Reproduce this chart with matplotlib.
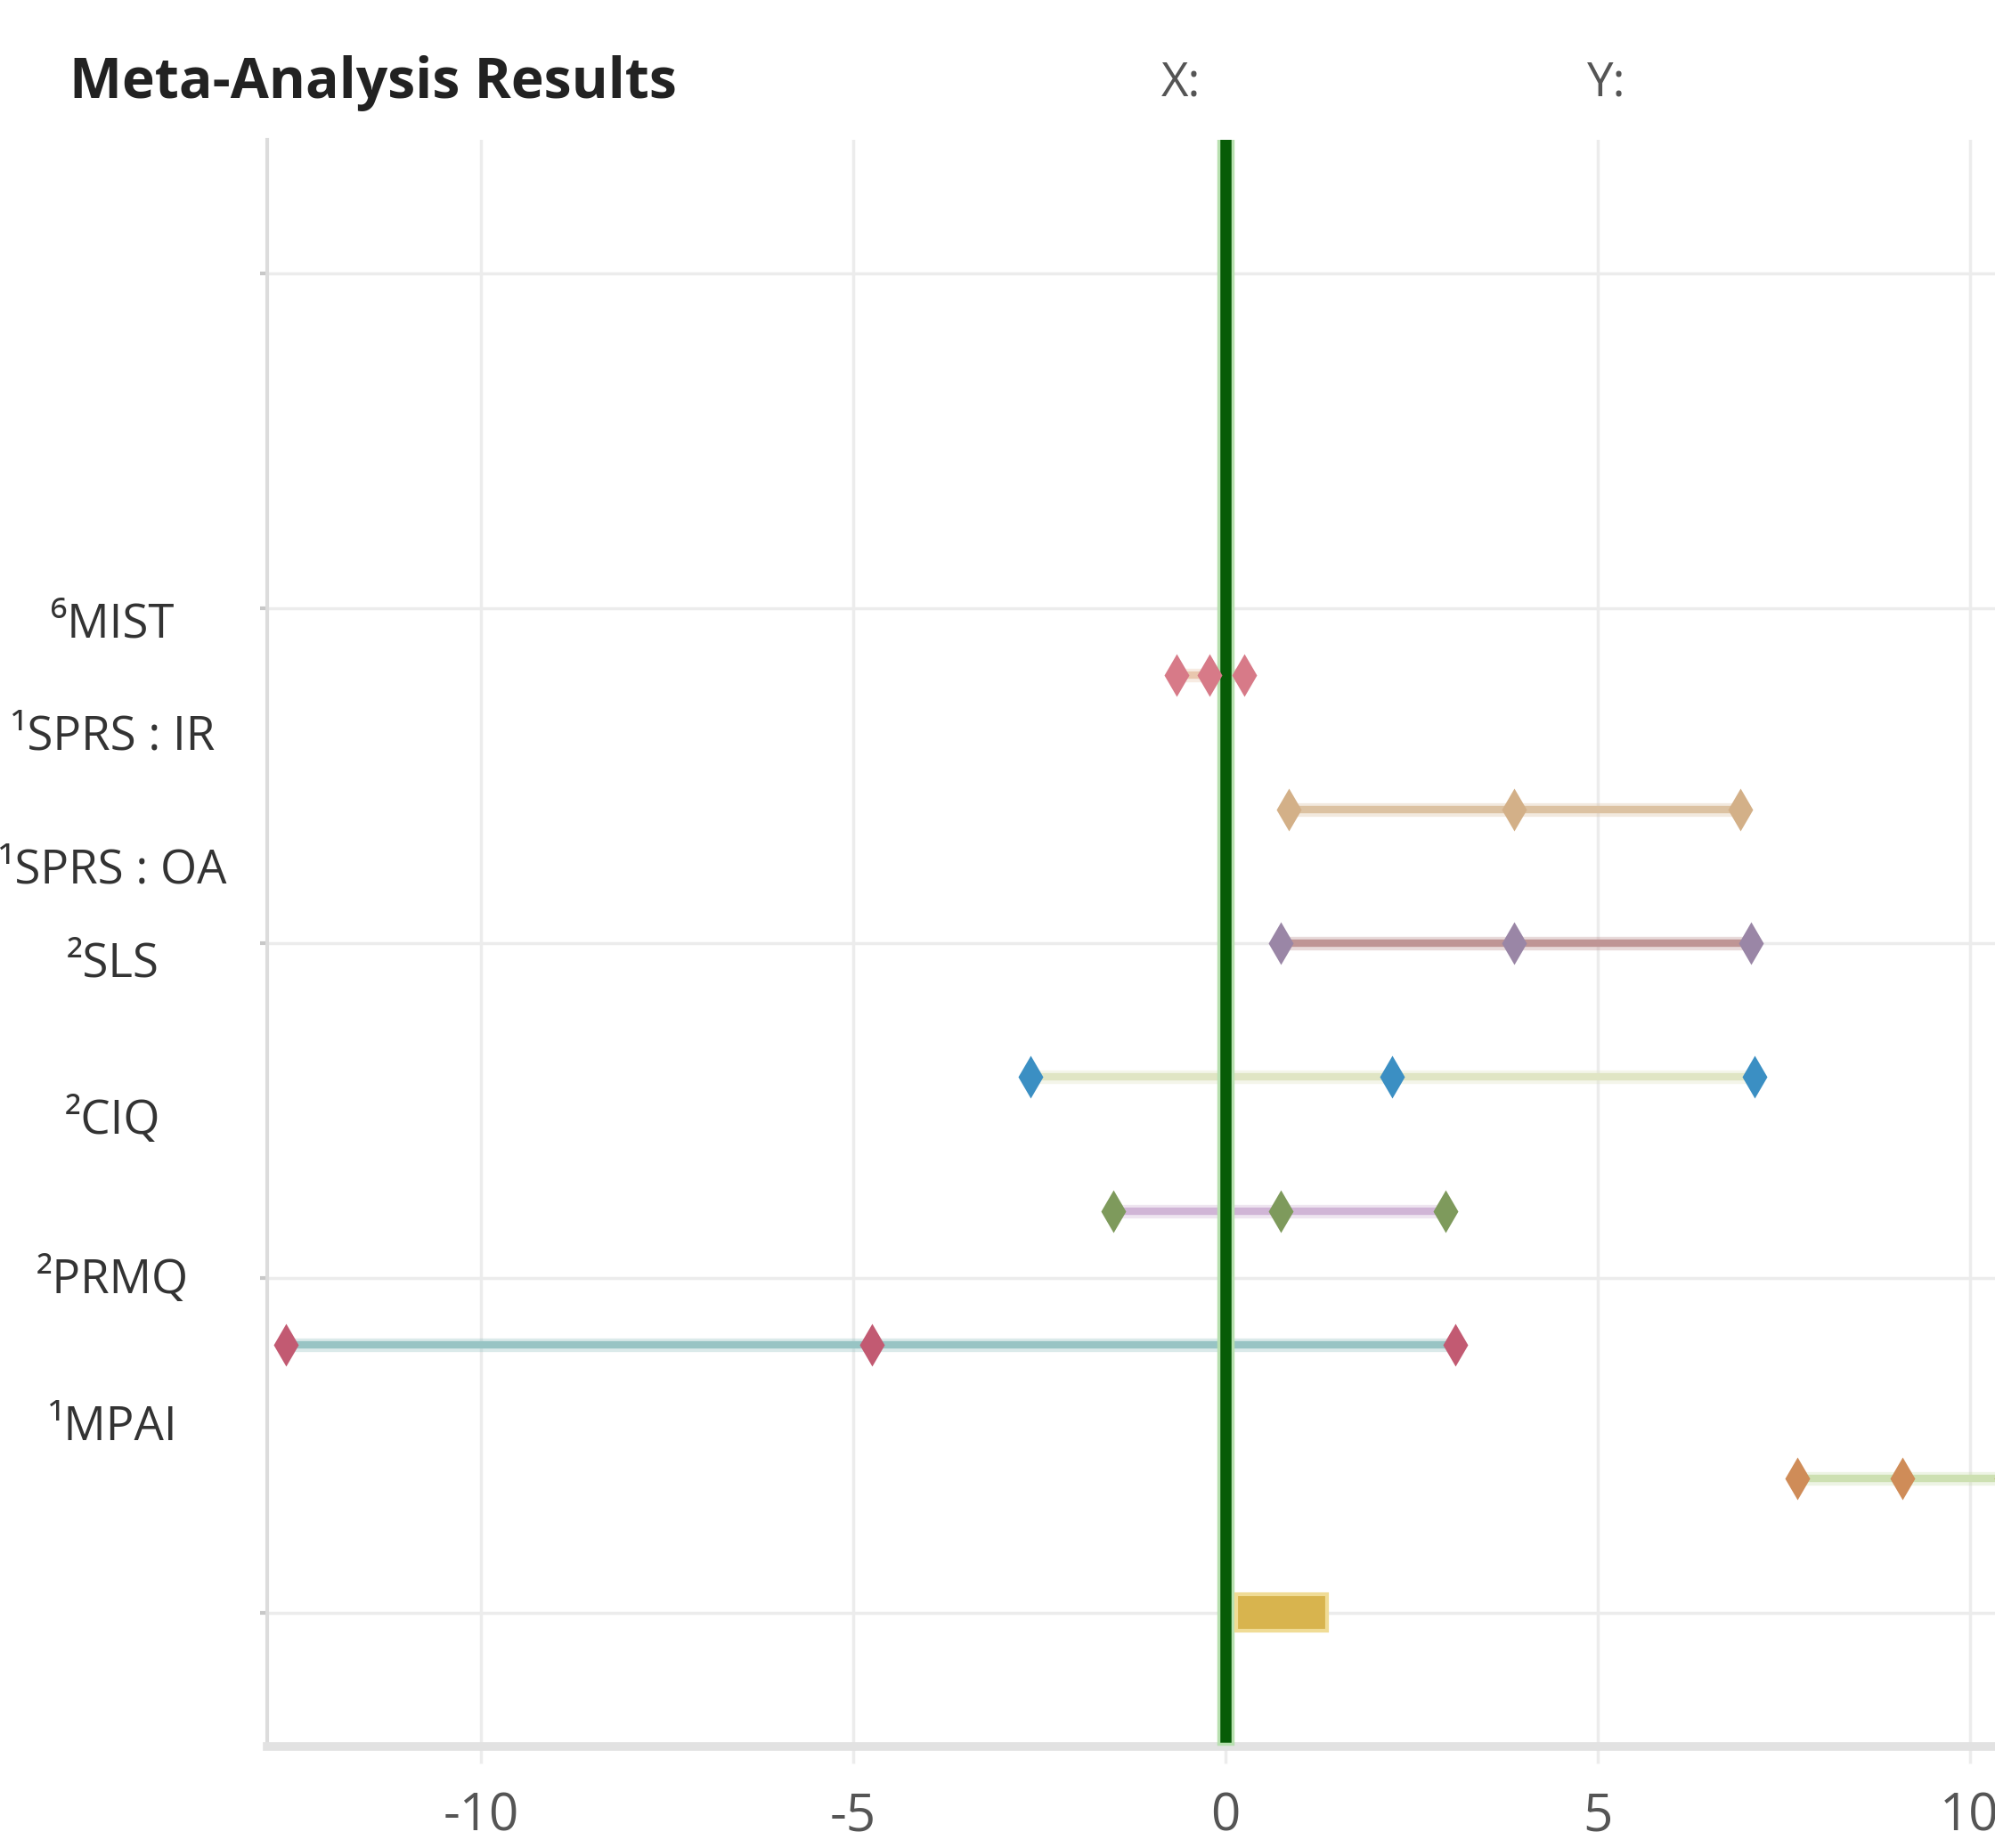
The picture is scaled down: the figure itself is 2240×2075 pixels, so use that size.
import matplotlib.pyplot as plt

plt.rcParams['font.family'] = ['Open Sans', 'DejaVu Sans']

# rows from top to bottom
labels = ['⁶MIST', '¹SPRS : IR', '¹SPRS : OA', '²SLS', '²CIQ', '²PRMQ', '¹MPAI']
lower = [-0.65, 0.85, 0.74, -2.62, -1.50, -12.62, 7.68]
center = [-0.21, 3.88, 3.88, 2.24, 0.74, -4.75, 9.09]
upper = [0.26, 6.92, 7.06, 7.11, 2.96, 3.09, 10.50]
summary_lo, summary_hi = 0.15, 1.37
xticks = [-10, -5, 0, 5, 10]

line_colors = ['#e9c7ae', '#dcc2a2', '#bf9595', '#e0e5c4', '#d0b5d6', '#98c4c4', '#cde0b2']
marker_colors = ['#d77a88', '#d3b088', '#9a86a6', '#3b8fc3', '#7e9a5c', '#c25a72', '#cf8c58']

# layout: row positions and label positions (data y)
row_y = [7, 6, 5, 4, 3, 2, 1]
label_y = [7.38, 6.54, 5.54, 4.84, 3.67, 2.48, 1.38]

fig = plt.figure(figsize=(22.4, 20.75), dpi=100)
ax = fig.add_axes([0.1339, 0.0549, 1 - 0.1339, 0.8694])
ax.set_xlim(-12.87, 10.34)
ax.set_ylim(-1, 11)

ax.set_xticks(xticks)
ax.set_xticklabels([str(t) for t in xticks])
ax.set_yticks([0, 2.5, 5, 7.5, 10])
ax.set_yticklabels([])
ax.grid(True, color='#ececec', lw=2.5, zorder=0)
ax.tick_params(axis='x', length=14, color='#ececec', width=2.5, labelsize=42,
               labelcolor='#555555', pad=22)
ax.tick_params(axis='y', length=6, color='#c8c8c8', width=3)
for s in ['top', 'right']:
    ax.spines[s].set_visible(False)
ax.spines['left'].set_color('#dcdcdc')
ax.spines['left'].set_linewidth(3)
ax.spines['bottom'].set_color('#e2e2e2')
ax.spines['bottom'].set_linewidth(7)

# reference line at zero
ax.axvline(0, ymin=0.006, ymax=1, color='#b8e0b0', lw=14, zorder=3)
ax.axvline(0, ymin=0.006, ymax=1, color='#075c07', lw=9, zorder=4)

for i in range(len(labels)):
    y = row_y[i]
    ax.plot([lower[i], upper[i]], [y, y], color=line_colors[i], lw=11, alpha=0.35,
            solid_capstyle='butt', zorder=2)
    ax.plot([lower[i], upper[i]], [y, y], color=line_colors[i], lw=6,
            solid_capstyle='butt', zorder=2)
    ax.plot([lower[i], center[i], upper[i]], [y, y, y], linestyle='none', marker='d',
            ms=24, color=marker_colors[i], mec='none', zorder=5)
    ax.text(-0.0895, label_y[i], labels[i], transform=ax.get_yaxis_transform(),
            ha='center', va='center', fontsize=38, color='#333333')

ax.barh(0, summary_hi - summary_lo, left=summary_lo, height=0.27,
        color='#d8b44e', edgecolor='#f0dc96', lw=3, zorder=5)

fig.text(0.035, 0.955, 'Meta-Analysis Results', fontsize=45, fontweight='bold',
         color='#222222', ha='left', va='center')
fig.text(0.592, 0.955, 'X:', fontsize=38, color='#555555', ha='center', va='center')
fig.text(0.805, 0.955, 'Y:', fontsize=38, color='#555555', ha='center', va='center')

fig.savefig('out.png', dpi=100)
